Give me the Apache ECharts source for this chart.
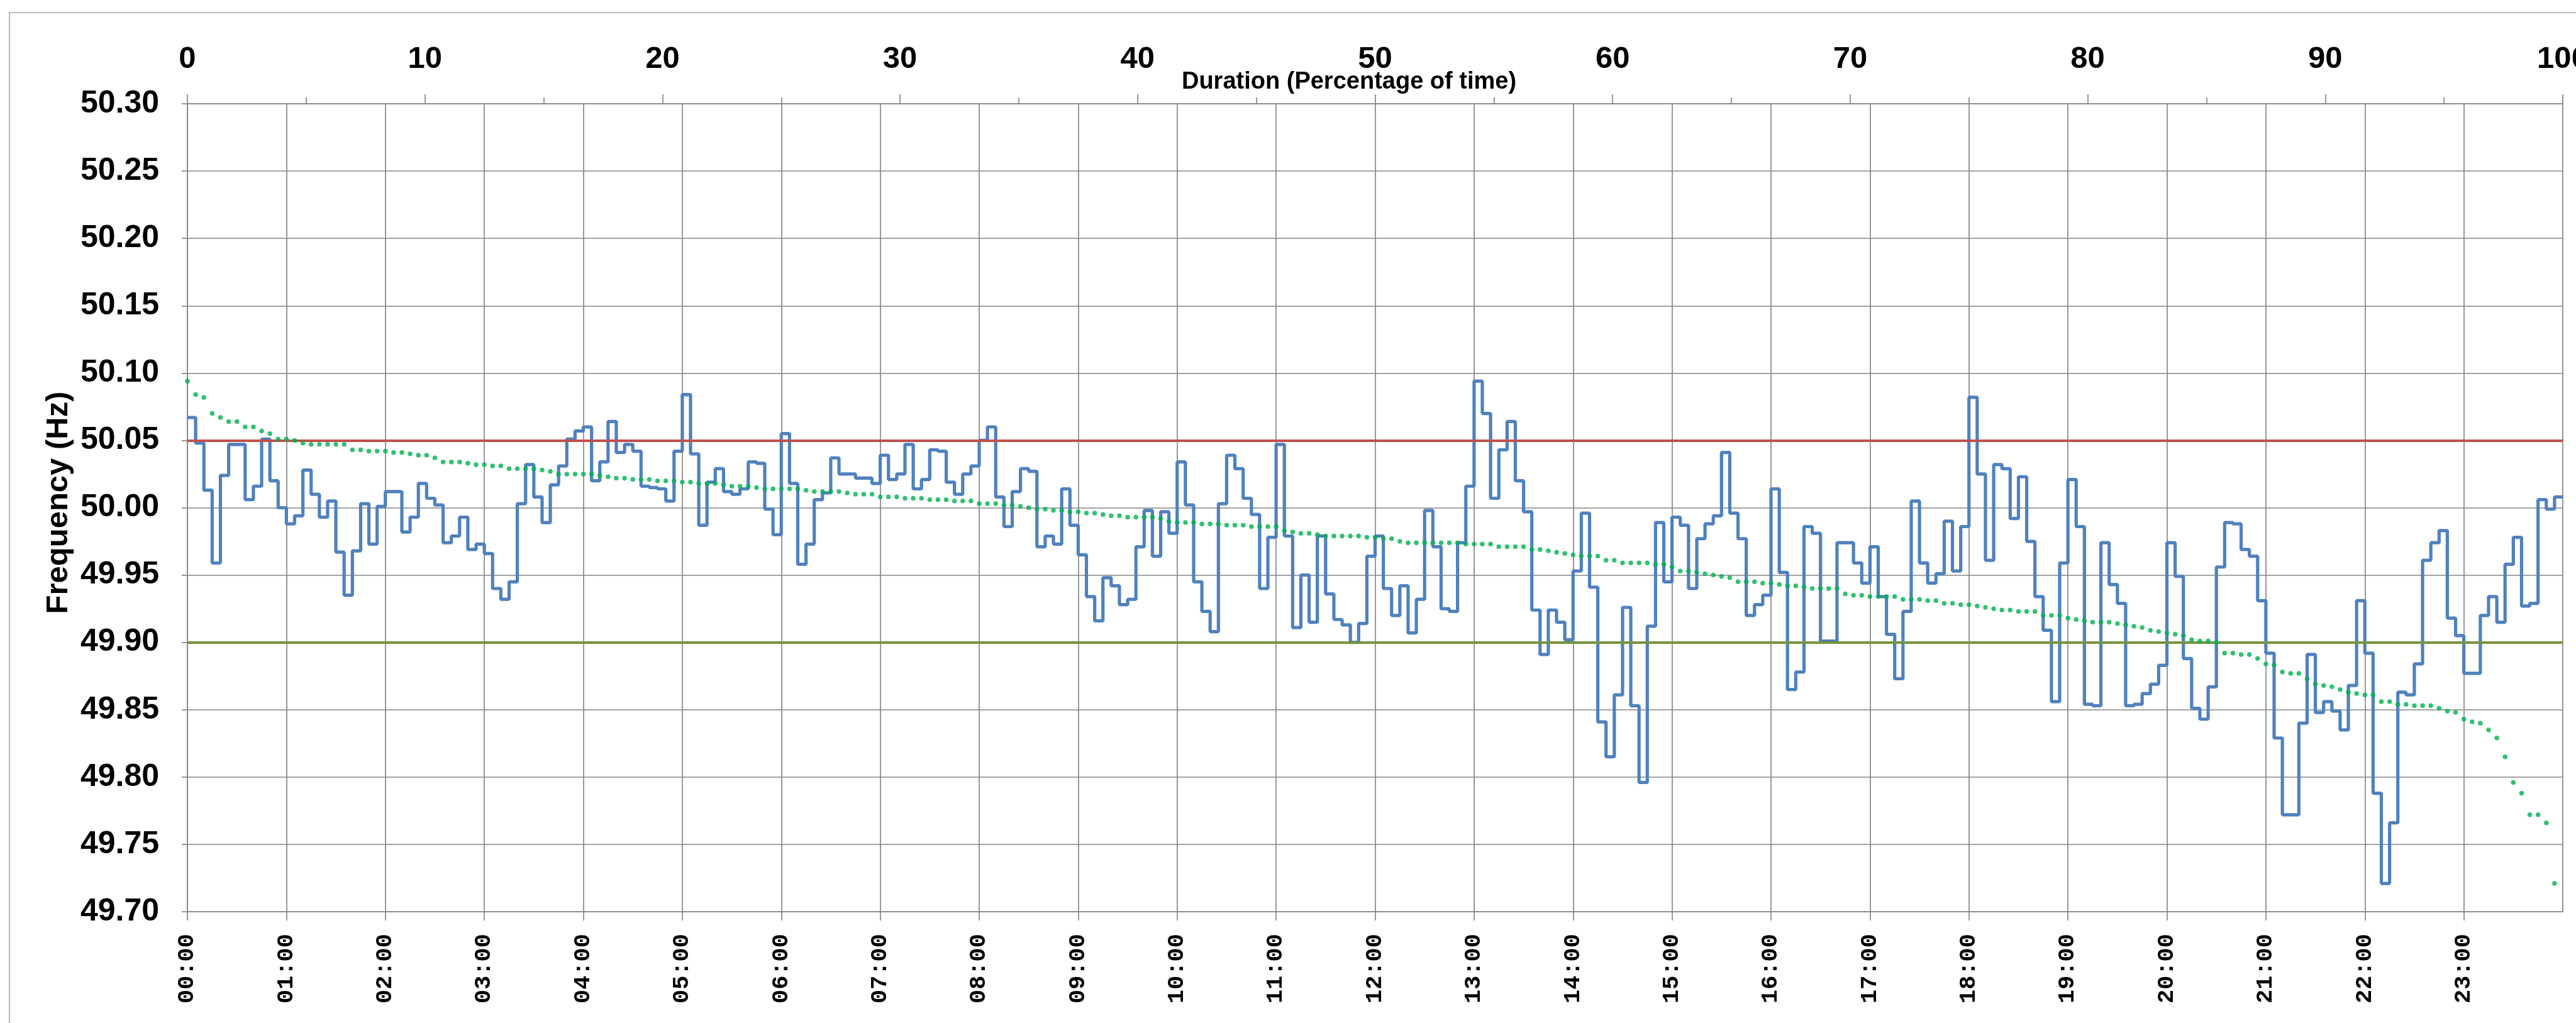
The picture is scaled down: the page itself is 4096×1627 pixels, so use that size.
<!DOCTYPE html>
<html>
<head>
<meta charset="utf-8">
<title>Frequency (Hz) - 5 minute values and duration curve</title>
<script src="https://cdn.jsdelivr.net/npm/echarts@6/dist/echarts.min.js"></script>
<style>
  html, body { margin: 0; padding: 0; background: #fff; }
  #chart { width: 4096px; height: 1627px; }
</style>
</head>
<body>
<div id="chart"></div>
<script>
// 5-minute frequency readings (Hz), one line per hour
var freq00to05 = [
  50.067, 50.048, 50.013, 49.959, 50.024, 50.047, 50.047, 50.006, 50.016, 50.051, 50.020, 50.000,
  49.988, 49.994, 50.028, 50.010, 49.993, 50.005, 49.967, 49.935, 49.968, 50.003, 49.973, 50.001,
  50.012, 50.012, 49.982, 49.993, 50.018, 50.007, 50.002, 49.974, 49.979, 49.993, 49.969, 49.973,
  49.966, 49.940, 49.932, 49.945, 50.003, 50.032, 50.008, 49.989, 50.017, 50.031, 50.051, 50.057,
  50.060, 50.020, 50.034, 50.064, 50.041, 50.047, 50.042, 50.016, 50.015, 50.014, 50.005, 50.042,
  50.084, 50.040, 49.987, 50.019, 50.029, 50.012, 50.010, 50.014, 50.034, 50.033, 49.999, 49.980
];
var freq06to11 = [
  50.055, 50.018, 49.958, 49.973, 50.006, 50.011, 50.037, 50.025, 50.025, 50.022, 50.022, 50.018,
  50.039, 50.021, 50.025, 50.047, 50.014, 50.021, 50.043, 50.042, 50.019, 50.010, 50.025, 50.031,
  50.050, 50.060, 50.008, 49.986, 50.012, 50.029, 50.027, 49.971, 49.979, 49.973, 50.014, 49.987,
  49.965, 49.934, 49.916, 49.948, 49.942, 49.928, 49.932, 49.971, 49.998, 49.964, 49.997, 49.981,
  50.034, 50.002, 49.945, 49.923, 49.908, 50.003, 50.039, 50.029, 50.007, 49.995, 49.940, 49.978,
  50.047, 49.979, 49.911, 49.950, 49.915, 49.979, 49.936, 49.917, 49.913, 49.900, 49.914, 49.964
];
var freq12to17 = [
  49.979, 49.940, 49.920, 49.942, 49.907, 49.932, 49.998, 49.971, 49.925, 49.923, 49.974, 50.016,
  50.094, 50.070, 50.007, 50.043, 50.064, 50.020, 49.997, 49.924, 49.891, 49.924, 49.915, 49.902,
  49.953, 49.996, 49.941, 49.841, 49.815, 49.861, 49.926, 49.853, 49.796, 49.912, 49.989, 49.945,
  49.993, 49.987, 49.940, 49.977, 49.988, 49.994, 50.041, 49.996, 49.977, 49.920, 49.928, 49.935,
  50.014, 49.952, 49.865, 49.878, 49.986, 49.981, 49.901, 49.901, 49.974, 49.974, 49.959, 49.944,
  49.971, 49.934, 49.906, 49.873, 49.923, 50.005, 49.959, 49.944, 49.951, 49.990, 49.953, 49.986
];
var freq18to23 = [
  50.082, 50.025, 49.961, 50.032, 50.029, 49.992, 50.023, 49.975, 49.934, 49.909, 49.856, 49.959,
  50.021, 49.986, 49.854, 49.853, 49.974, 49.943, 49.929, 49.853, 49.854, 49.862, 49.869, 49.883,
  49.974, 49.949, 49.888, 49.851, 49.843, 49.867, 49.956, 49.989, 49.988, 49.969, 49.964, 49.931,
  49.892, 49.829, 49.772, 49.772, 49.840, 49.891, 49.848, 49.856, 49.849, 49.835, 49.868, 49.931,
  49.892, 49.788, 49.721, 49.766, 49.863, 49.861, 49.884, 49.961, 49.974, 49.983, 49.918, 49.905,
  49.877, 49.877, 49.920, 49.934, 49.915, 49.958, 49.978, 49.927, 49.929, 50.006, 49.999, 50.008
];
var upperLimit = 50.05;   // red line
var lowerLimit = 49.90;   // olive line
var stepMinutes = 5;

var readings = freq00to05.concat(freq06to11, freq12to17, freq18to23);

// blue step line: each reading holds for its 5 minutes, so close the last one at 24:00
var freqLine = readings.map(function (v, i) { return [i * stepMinutes, v]; });
freqLine.push([readings.length * stepMinutes, readings[readings.length - 1]]);

// duration curve = the same readings ordered high to low, spread over 0..100 % of the time
var durationCurve = readings.slice().sort(function (a, b) { return b - a; })
  .map(function (v, i) { return [i * 100 / readings.length, v]; });

var gridColor = '#868686';
var sansBold = "'Liberation Sans', Arial, sans-serif";
var monoBold = "'Liberation Mono', 'Courier New', monospace";

var chart = echarts.init(document.getElementById('chart'));

var option = {
  backgroundColor: '#ffffff',
  animation: false,
  grid: { left: 298, right: 21, top: 165, bottom: 177, containLabel: false, outerBoundsMode: 'none' },
  graphic: [
    {
      type: 'rect', silent: true, z: -10,
      shape: { x: 15, y: 20, width: 4300, height: 1800 },
      style: { fill: 'none', stroke: '#a6a6a6', lineWidth: 1.6 }
    },
    {
      type: 'text', silent: true, x: 2145, y: 131,
      style: {
        text: 'Duration (Percentage of time)', fill: '#000',
        fontFamily: sansBold, fontWeight: 'bold', fontSize: 38,
        align: 'center', verticalAlign: 'middle'
      }
    }
  ],
  xAxis: [
    {
      type: 'value', position: 'bottom', min: 0, max: 1440, interval: 60,
      axisLine: { show: true, lineStyle: { color: gridColor, width: 1.7 } },
      axisTick: { show: true, length: 14, lineStyle: { color: gridColor, width: 1.7 } },
      splitLine: { show: true, lineStyle: { color: gridColor, width: 1.7 } },
      axisLabel: {
        rotate: 90, margin: 35, showMaxLabel: false,
        color: '#000', fontFamily: monoBold, fontWeight: 'bold', fontSize: 37,
        formatter: function (v) {
          if (v >= 1440) return '';
          var h = Math.round(v / 60);
          return (h < 10 ? '0' : '') + h + ':00';
        }
      }
    },
    {
      type: 'value', position: 'top', min: 0, max: 100, interval: 10,
      axisLine: { show: true, lineStyle: { color: gridColor, width: 1.7 } },
      axisTick: { show: true, length: 15, lineStyle: { color: gridColor, width: 1.7 } },
      minorTick: { show: true, splitNumber: 2, length: 10, lineStyle: { color: gridColor, width: 1.7 } },
      splitLine: { show: false },
      axisLabel: {
        margin: 46, color: '#000', fontFamily: sansBold, fontWeight: 'bold', fontSize: 49
      }
    }
  ],
  yAxis: {
    type: 'value', min: 49.7, max: 50.3, interval: 0.05,
    name: 'Frequency (Hz)', nameLocation: 'middle', nameRotate: 90, nameGap: 180,
    nameMoveOverlap: false,
    nameTextStyle: { color: '#000', fontFamily: sansBold, fontWeight: 'bold', fontSize: 49, padding: [0, 0, 0, 16] },
    axisLine: { show: true, lineStyle: { color: gridColor, width: 1.7 } },
    axisTick: { show: true, length: 9, lineStyle: { color: gridColor, width: 1.7 } },
    splitLine: { show: true, lineStyle: { color: gridColor, width: 1.7 } },
    axisLabel: {
      margin: 45, color: '#000', fontFamily: sansBold, fontWeight: 'bold', fontSize: 50,
      formatter: function (v) { return v.toFixed(2); }
    }
  },
  series: [
    {
      name: 'Frequency', type: 'line', xAxisIndex: 0, yAxisIndex: 0,
      step: 'end', symbol: 'none', showSymbol: false, z: 2,
      lineStyle: { color: '#4F81BD', width: 5.2 },
      data: freqLine,
      markLine: {
        silent: true, symbol: 'none', z: 4,
        label: { show: false },
        emphasis: { disabled: true },
        data: [
          { yAxis: upperLimit, lineStyle: { color: '#C0504D', width: 4.2, type: 'solid' } },
          { yAxis: lowerLimit, lineStyle: { color: '#77933C', width: 4.2, type: 'solid' } }
        ]
      }
    },
    {
      name: 'Duration', type: 'scatter', xAxisIndex: 1, yAxisIndex: 0, z: 6,
      symbol: 'circle', symbolSize: 7.5,
      itemStyle: { color: '#00B050' },
      data: durationCurve
    }
  ]
};

chart.setOption(option);
</script>
</body>
</html>
